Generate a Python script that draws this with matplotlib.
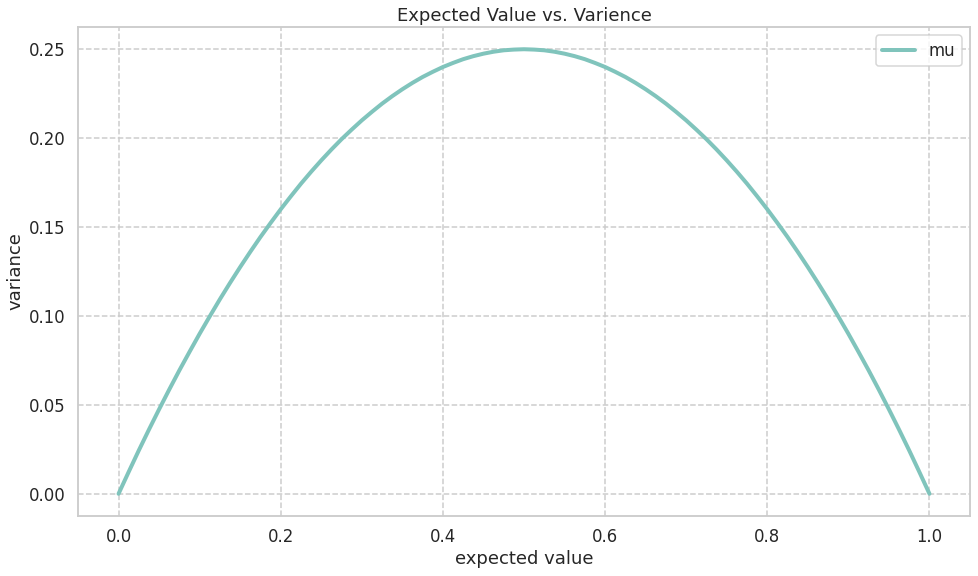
import matplotlib
matplotlib.use("Agg")
import matplotlib.pyplot as plt
import seaborn as sns

# expected value (mu) and variance
mu = [0.0, 0.0125, 0.025, 0.0375, 0.05, 0.0625, 0.075, 0.0875, 0.1, 0.1125,
      0.125, 0.1375, 0.15, 0.1625, 0.175, 0.1875, 0.2, 0.2125, 0.225, 0.2375,
      0.25, 0.2625, 0.275, 0.2875, 0.3, 0.3125, 0.325, 0.3375, 0.35, 0.3625,
      0.375, 0.3875, 0.4, 0.4125, 0.425, 0.4375, 0.45, 0.4625, 0.475, 0.4875,
      0.5, 0.5125, 0.525, 0.5375, 0.55, 0.5625, 0.575, 0.5875, 0.6, 0.6125,
      0.625, 0.6375, 0.65, 0.6625, 0.675, 0.6875, 0.7, 0.7125, 0.725, 0.7375,
      0.75, 0.7625, 0.775, 0.7875, 0.8, 0.8125, 0.825, 0.8375, 0.85, 0.8625,
      0.875, 0.8875, 0.9, 0.9125, 0.925, 0.9375, 0.95, 0.9625, 0.975, 0.9875,
      1.0]
variance = [0.0, 0.0123, 0.0244, 0.0361, 0.0475, 0.0586, 0.0694, 0.0798,
            0.09, 0.0998, 0.1094, 0.1186, 0.1275, 0.1361, 0.1444, 0.1523,
            0.16, 0.1673, 0.1744, 0.1811, 0.1875, 0.1936, 0.1994, 0.2048,
            0.21, 0.2148, 0.2194, 0.2236, 0.2275, 0.2311, 0.2344, 0.2373,
            0.24, 0.2423, 0.2444, 0.2461, 0.2475, 0.2486, 0.2494, 0.2498,
            0.25, 0.2498, 0.2494, 0.2486, 0.2475, 0.2461, 0.2444, 0.2423,
            0.24, 0.2373, 0.2344, 0.2311, 0.2275, 0.2236, 0.2194, 0.2148,
            0.21, 0.2048, 0.1994, 0.1936, 0.1875, 0.1811, 0.1744, 0.1673,
            0.16, 0.1523, 0.1444, 0.1361, 0.1275, 0.1186, 0.1094, 0.0998,
            0.09, 0.0798, 0.0694, 0.0586, 0.0475, 0.0361, 0.0244, 0.0123,
            0.0]

sns.set_theme(style="whitegrid", context="talk",
              rc={"grid.linestyle": "--", "axes.edgecolor": "#cccccc"})
plt.rcParams["font.family"] = ["DejaVu Sans"]

fig = plt.figure(figsize=(978 / 72, 576 / 72), dpi=72)
ax = fig.add_axes([78 / 978, 1 - 516 / 576, 892 / 978, 489 / 576])

ax.plot(mu, variance, color="#80c4bc", linewidth=4, label="mu")
ax.set_xlabel("expected value", labelpad=4)
ax.set_ylabel("variance")
ax.set_title("Expected Value vs. Varience", pad=6)
ax.set_xticks([0.0, 0.2, 0.4, 0.6, 0.8, 1.0])
ax.set_yticks([0.0, 0.05, 0.10, 0.15, 0.20, 0.25])
ax.legend(loc="upper right")

fig.savefig("out.png", dpi=72)
